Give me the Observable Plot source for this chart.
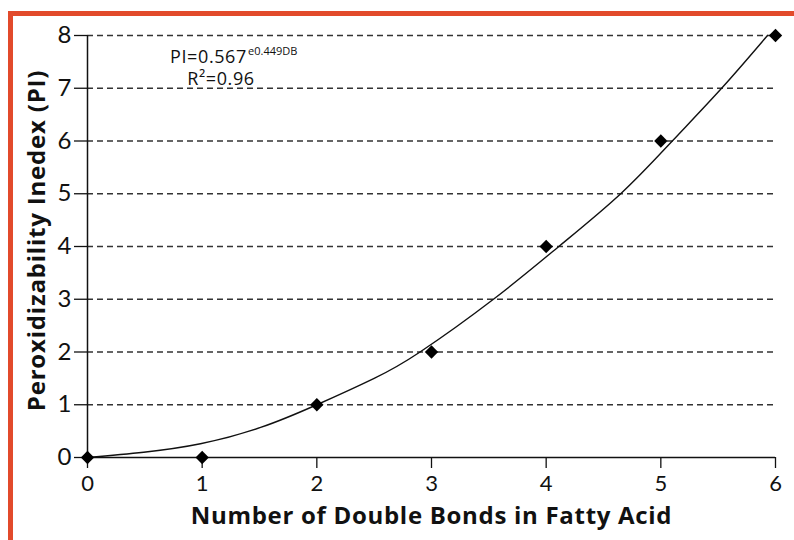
<!DOCTYPE html>
<html>
<head>
<meta charset="utf-8">
<script src="https://cdn.jsdelivr.net/npm/d3@7"></script>
<script src="https://cdn.jsdelivr.net/npm/@observablehq/plot@0.6"></script>
<style>
  html, body { margin: 0; padding: 0; background: #fff; }
  #wrap { position: relative; width: 794px; height: 540px; overflow: hidden; }
  #edge { position: absolute; left: 8px; top: 11px; right: 0; bottom: 0;
          border-top: 5px solid #e24a2b; border-left: 5px solid #e24a2b; }
  #chart { position: absolute; left: 0; top: 0; }
</style>
</head>
<body>
<div id="wrap"><div id="edge"></div><div id="chart"></div></div>
<script>
// Measured fatty acids: double bonds vs. peroxidizability index
const doubleBonds = [0, 1, 2, 3, 4, 5, 6];
const piValues    = [0, 0, 1, 2, 4, 6, 8];

// Fitted trend curve, traced point by point
const fitX = [0, 0.49, 0.985, 1.51, 2, 2.5, 2.9, 3.54, 4.11, 4.65, 5.10, 5.53, 5.93];
const fitY = [0, 0.10, 0.26, 0.57, 1.0, 1.50, 2.0, 3.0, 4.0, 5.0, 6.0, 7.0, 8.0];

const xTicks = [0, 1, 2, 3, 4, 5, 6];
const yTicks = [0, 1, 2, 3, 4, 5, 6, 7, 8];
const gridTicks = [1, 2, 3, 4, 5, 6, 7, 8];

const xTitle = "Number of Double Bonds in Fatty Acid";
const yTitle = "Peroxidizability Inedex (PI)";
const fitLabel = "PI=0.567";
const fitExponent = "e0.449DB";
const fitR2 = "R\u00B2=0.96";

const points = doubleBonds.map((x, i) => ({x, y: piValues[i]}));
const fit = fitX.map((x, i) => ({x, y: fitY[i]}));

const titleFont = "'Open Sans', Lato, sans-serif";

const chart = Plot.plot({
  width: 794,
  height: 540,
  marginLeft: 87,
  marginRight: 19,
  marginTop: 35,
  marginBottom: 83,
  style: {fontFamily: "Lato, 'Open Sans', sans-serif", color: "#111", background: "transparent"},
  x: {domain: [0, 6]},
  y: {domain: [0, 8]},
  marks: [
    Plot.ruleY(gridTicks, {stroke: "#333", strokeWidth: 1.3, strokeDasharray: "6,4"}),
    Plot.axisY(yTicks, {tickSize: 13, tickPadding: 3, fontSize: 24, tickFormat: d => String(d), label: null, stroke: "#111", strokeWidth: 1.3}),
    Plot.axisX(xTicks, {tickSize: 11, tickPadding: 7, fontSize: 22, tickFormat: d => String(d), label: null, stroke: "#111", strokeWidth: 1.3}),
    Plot.ruleX([0], {stroke: "#111", strokeWidth: 1.5}),
    Plot.ruleY([0], {stroke: "#111", strokeWidth: 1.5}),
    Plot.line(fit, {x: "x", y: "y", curve: "natural", stroke: "#111", strokeWidth: 1.4}),
    Plot.dot(points, {x: "x", y: "y", symbol: "diamond2", r: 6, fill: "#000", stroke: "none"}),
    // Regression annotation
    Plot.text([fitLabel], {x: 0.72, y: 7.59, text: d => d, textAnchor: "start", fontSize: 18, fontFamily: titleFont, fill: "#111"}),
    Plot.text([fitExponent], {x: 1.40, y: 7.70, text: d => d, textAnchor: "start", fontSize: 11, fontFamily: titleFont, fill: "#111"}),
    Plot.text([fitR2], {x: 0.87, y: 7.18, text: d => d, textAnchor: "start", fontSize: 18, fontFamily: titleFont, fill: "#111"}),
    // Axis titles
    Plot.text([xTitle], {frameAnchor: "bottom", dy: 66, text: d => d, fontSize: 24, fontWeight: "bold", fontFamily: titleFont, fill: "#111"}),
    Plot.text([yTitle], {frameAnchor: "left", textAnchor: "middle", dx: -50, dy: -6, rotate: -90, text: d => d, fontSize: 24, fontWeight: "bold", fontFamily: titleFont, fill: "#111"})
  ]
});

// Slightly wider tracking for the titles and the fit annotation
const spacing = new Map([[xTitle, "0.7px"], [yTitle, "0.8px"], [fitLabel, "0.6px"], [fitR2, "0.6px"]]);
d3.select(chart).selectAll("text")
  .filter(function() { return spacing.has(this.textContent); })
  .style("letter-spacing", function() { return spacing.get(this.textContent); });

document.getElementById("chart").appendChild(chart);
</script>
</body>
</html>
